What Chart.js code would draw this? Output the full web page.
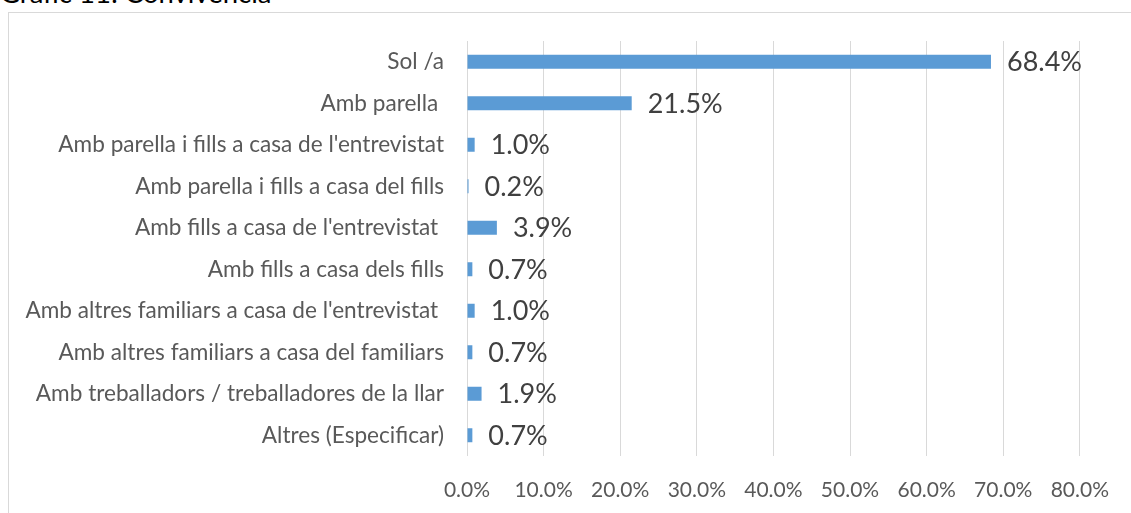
<!DOCTYPE html>
<html><head><meta charset="utf-8">
<script src="https://cdn.jsdelivr.net/npm/chart.js@4/dist/chart.umd.min.js"></script>
<style>
html,body{margin:0;padding:0;background:#fff;width:1131px;height:513px;overflow:hidden;position:relative;font-family:Lato,sans-serif}
#title{position:absolute;left:0;top:-23px;font-size:27.5px;line-height:32px;color:#000;white-space:nowrap}
#frame{position:absolute;left:8px;top:12px;width:1200px;height:600px;border:1px solid #d9d9d9;box-sizing:border-box}
#wrap{position:absolute;left:0;top:0;width:1131px;height:513px}
</style></head><body>
<div id="title">Gràfic 11: Convivència</div>
<div id="frame"></div>
<div id="wrap"><canvas id="c" width="1131" height="513"></canvas></div>
<script>
const categories = [
  "Sol /a",
  "Amb parella ",
  "Amb parella i fills a casa de l'entrevistat",
  "Amb parella i fills a casa del fills",
  "Amb fills a casa de l'entrevistat ",
  "Amb fills a casa dels fills",
  "Amb altres familiars a casa de l'entrevistat ",
  "Amb altres familiars a casa del familiars",
  "Amb treballadors / treballadores de la llar",
  "Altres (Especificar)"
];
const values = [68.4, 21.5, 1.0, 0.2, 3.9, 0.7, 1.0, 0.7, 1.9, 0.7];
const tickValues = [0, 10, 20, 30, 40, 50, 60, 70, 80];

const labelPlugin = {
  id: 'endLabels',
  afterDatasetsDraw(chart) {
    const ctx = chart.ctx;
    const meta = chart.getDatasetMeta(0);
    ctx.save();
    ctx.font = '27px Lato';
    ctx.fillStyle = '#404040';
    ctx.textBaseline = 'middle';
    ctx.textAlign = 'left';
    meta.data.forEach((bar, i) => {
      ctx.fillText(values[i].toFixed(1) + '%', bar.x + 16, bar.y + 1);
    });
    ctx.restore();
  }
};

new Chart(document.getElementById('c'), {
  type: 'bar',
  data: {
    labels: categories,
    datasets: [{
      data: values,
      backgroundColor: '#5b9bd5',
      barPercentage: 0.67,
      categoryPercentage: 0.5
    }]
  },
  options: {
    indexAxis: 'y',
    responsive: false,
    animation: false,
    devicePixelRatio: 1,
    layout: { padding: { left: 0, top: 41, right: 47, bottom: 0 } },
    plugins: { legend: { display: false }, tooltip: { enabled: false } },
    scales: {
      x: {
        min: 0, max: 80,
        afterBuildTicks(s) { s.ticks = tickValues.map(v => ({ value: v })); },
        afterFit(s) { s.height = 57; },
        grid: { color: '#d9d9d9', lineWidth: 1, drawTicks: false },
        border: { display: false },
        ticks: {
          padding: 22,
          color: '#595959',
          font: { family: 'Lato', size: 21 },
          callback: v => v.toFixed(1) + '%'
        }
      },
      y: {
        afterFit(s) { s.width = 467; },
        grid: { display: false, drawTicks: false },
        border: { display: false },
        ticks: {
          padding: 23,
          color: '#595959',
          font: { family: 'Lato', size: 22.6 },
          autoSkip: false
        }
      }
    }
  },
  plugins: [labelPlugin]
});
</script>
</body></html>
